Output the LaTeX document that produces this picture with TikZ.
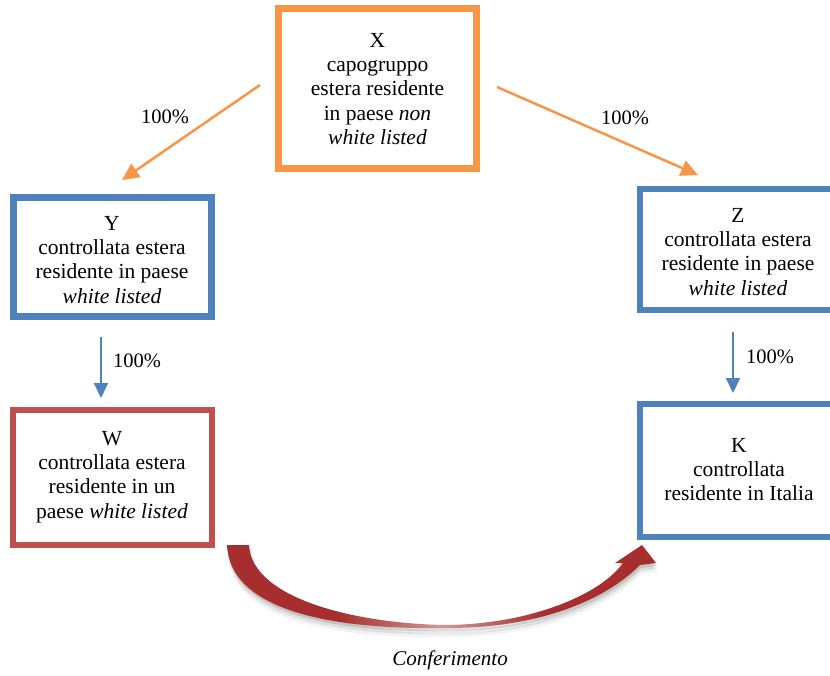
\documentclass[tikz,border=0pt]{standalone}
\usepackage{fontspec}
\setmainfont{Liberation Serif}
\usetikzlibrary{arrows.meta}
\definecolor{xorange}{RGB}{247,150,70}
\definecolor{xblue}{RGB}{79,129,189}
\definecolor{xred}{RGB}{192,80,77}
\definecolor{arrowred}{RGB}{166,46,46}
\pgfdeclarehorizontalshading{crescentshade}{100bp}{color(0bp)=(arrowred); color(38bp)=(arrowred); color(50bp)=(arrowred!50!white); color(62bp)=(arrowred); color(100bp)=(arrowred)}
\begin{document}
\begin{tikzpicture}[x=1pt,y=-1pt,
  box/.style={draw=#1, line width=6.5pt, rectangle, inner sep=0pt},
  txt/.style={font=\fontsize{21.5}{24.4}\selectfont, align=center, inner sep=0pt, anchor=north},
  pct/.style={font=\fontsize{20.5}{24}\selectfont, inner sep=0pt},
  oarrow/.style={draw=xorange, line width=2.5pt, -{Triangle[length=17pt,width=16pt]}},
  barrow/.style={draw=xblue, line width=2pt, -{Triangle[length=15pt,width=14pt]}}]
\clip (0,0) rectangle (830,675);
\fill[white] (0,0) rectangle (830,675);

% boxes
\node[box=xorange, minimum width=198pt, minimum height=160pt] (X) at (377.5,88.5) {};
\node[box=xblue, minimum width=198.4pt, minimum height=119.4pt] (Y) at (112.5,257) {};
\node[box=xred, minimum width=199pt, minimum height=135pt] (W) at (112.5,477.5) {};
\node[box=xblue, minimum width=220pt, minimum height=121pt] (Z) at (750,249.5) {};
\node[box=xblue, minimum width=220pt, minimum height=133pt] (K) at (750,470.5) {};

% texts
\node[txt] (Xt) at (377.5,32.8) {X\\capogruppo\\estera residente\\in paese \textit{non}\\\textit{white listed}};
\node[txt] (Yt) at (112,215.8) {Y\\controllata estera\\residente in paese\\\textit{white listed}};
\node[txt] (Wt) at (112,430.8) {W\\controllata estera\\residente in un\\paese \textit{white listed}};
\node[txt] (Zt) at (738,207.8) {Z\\controllata estera\\residente in paese\\\textit{white listed}};
\node[txt] (Kt) at (739,437.8) {K\\controllata\\residente in Italia};

% straight arrows
\coordinate (xy1) at (260,85); \coordinate (xy2) at (122,180);
\coordinate (xz1) at (497,87); \coordinate (xz2) at (698,175);
\coordinate (yw1) at (101,337); \coordinate (yw2) at (101,398);
\coordinate (zk1) at (733,332); \coordinate (zk2) at (733,393);
\draw[oarrow] (xy1) -- (xy2);
\draw[oarrow] (xz1) -- (xz2);
\draw[barrow] (yw1) -- (yw2);
\draw[barrow] (zk1) -- (zk2);

\node[pct] (l1) at (165,117) {100\%};
\node[pct] (l2) at (625,118) {100\%};
\node[pct] (l3) at (137,361) {100\%};
\node[pct] (l4) at (770,357) {100\%};

% curved arrow shadow
\foreach \dy/\op in {9/0.05, 6/0.08, 3/0.12} {
  \fill[black, opacity=\op, yshift=-\dy pt, xshift=1pt]
    (227,545) .. controls (230,610) and (330,630) .. (447,628)
    .. controls (540,628) and (605,600) .. (640,565)
    -- (656,563) -- (642,545) -- (615,563) -- (623,563)
    .. controls (600,595) and (530,624) .. (447,625)
    .. controls (360,624) and (252,600) .. (249,545) -- cycle;
}
% curved arrow
\shade[shading=crescentshade]
    (227,545) .. controls (230,610) and (330,630) .. (447,628)
    .. controls (540,628) and (605,600) .. (640,565)
    -- (656,563) -- (642,545) -- (615,563) -- (623,563)
    .. controls (600,595) and (530,624) .. (447,625)
    .. controls (360,624) and (252,600) .. (249,545) -- cycle;

\node[font=\fontsize{21}{24}\selectfont\itshape, inner sep=0pt] (conf) at (450,660) {Conferimento};
\end{tikzpicture}
\end{document}
